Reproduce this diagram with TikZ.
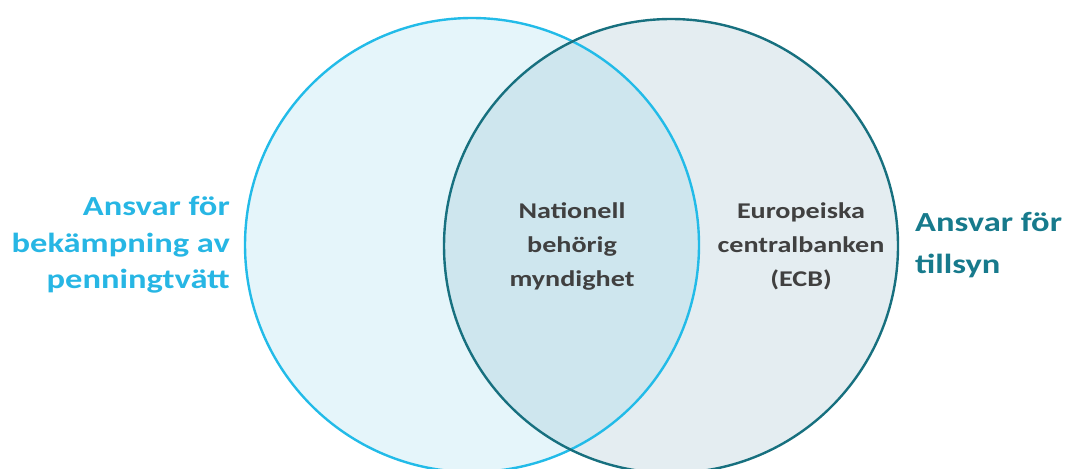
\documentclass[tikz,border=0pt]{standalone}
\usepackage{fontspec}
\setmainfont{Carlito}
\newfontfamily\widefont[FakeStretch=1.25]{Carlito}
\definecolor{cyanline}{HTML}{22BBE8}
\definecolor{cyanfill}{HTML}{E5F5FA}
\definecolor{tealline}{HTML}{17707F}
\definecolor{tealfill}{HTML}{E4EDF1}
\definecolor{overlapfill}{HTML}{CEE6EE}
\definecolor{cyantext}{HTML}{27B6E4}
\definecolor{tealtext}{HTML}{177A8C}
\definecolor{graytext}{HTML}{404040}
\tikzset{
  sidelabel/.style={font=\widefont\fontsize{27.6}{36.5}\selectfont\bfseries, inner sep=0pt},
  centerlabel/.style={font=\widefont\fontsize{22.5}{34}\selectfont\bfseries, text=graytext, align=center, inner sep=0pt},
}
\begin{document}
\begin{tikzpicture}[x=1pt,y=-1pt]
\useasboundingbox (0,0) rectangle (1067,468);
\coordinate (cl) at (472,245);
\coordinate (cr) at (671,246);
\fill[cyanfill] (cl) circle (227pt);
\fill[tealfill] (cr) circle (227pt);
\begin{scope}
  \clip (cl) circle (227pt);
  \fill[overlapfill] (cr) circle (227pt);
\end{scope}
\draw[cyanline, line width=2.4pt] (cl) circle (227pt);
\draw[tealline, line width=2.4pt] (cr) circle (227pt);
\node[sidelabel, text=cyantext, align=right, anchor=east] (left) at (230,245) {Ansvar för\\bekämpning av\\penningtvätt};
\node[sidelabel, text=tealtext, align=left, anchor=west, font=\widefont\fontsize{27.6}{42}\selectfont\bfseries] (right) at (915,245) {Ansvar för\\tillsyn};
\node[centerlabel] (mid) at (572,246) {Nationell\\behörig\\myndighet};
\node[centerlabel] (ecb) at (801,246) {Europeiska\\centralbanken\\(ECB)};
\end{tikzpicture}
\end{document}
